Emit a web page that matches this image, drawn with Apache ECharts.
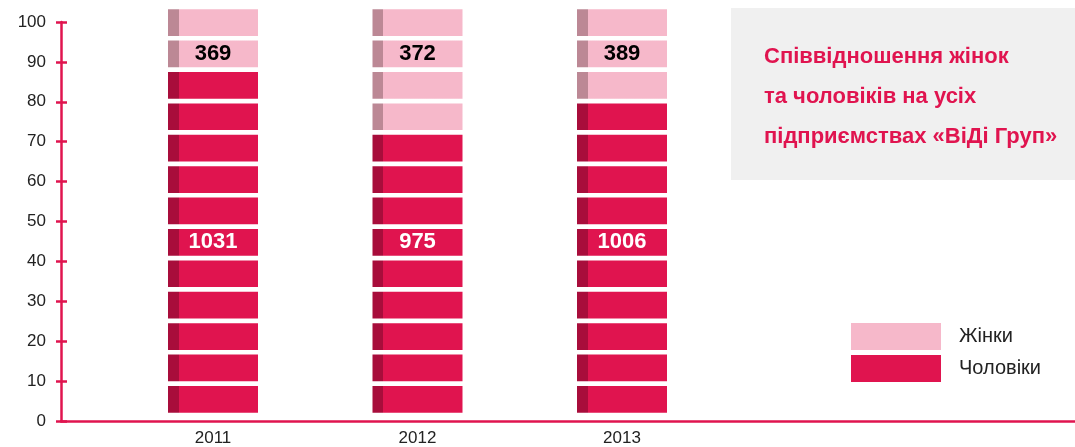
<!DOCTYPE html>
<html>
<head>
<meta charset="utf-8">
<script src="https://cdn.jsdelivr.net/npm/echarts@6/dist/echarts.min.js"></script>
<style>
  html, body { margin: 0; padding: 0; background: #fff; }
  #chart { width: 1075px; height: 447px; }
</style>
</head>
<body>
<div id="chart"></div>
<script>
// data
var years = ["2011", "2012", "2013"];
var menCount = [1031, 975, 1006];
var womenCount = [369, 372, 389];
var menBlocks = [11, 9, 10];   // red blocks per column
var womenBlocks = [2, 4, 3];   // pink blocks per column
var yTicks = [0, 10, 20, 30, 40, 50, 60, 70, 80, 90, 100];

var RED = "#e0144f", RED_DARK = "#a80d3b";
var PINK = "#f6b8ca", PINK_DARK = "#bc8895";
var FONT = "'Liberation Sans', Arial, sans-serif";

var chart = echarts.init(document.getElementById("chart"));

function stripColor(dark, main) {
  var s = 11 / 90;
  return new echarts.graphic.LinearGradient(0, 0, 1, 0, [
    { offset: 0, color: dark },
    { offset: s, color: dark },
    { offset: s, color: main },
    { offset: 1, color: main }
  ]);
}

var blockH = 6.69, gapH = 1.18, baseH = 2.08;
var total = menBlocks[0] + womenBlocks[0];
var MEN_LABEL_AT = 5, WOMEN_LABEL_AT = total - 2;

var series = [];
// empty space below the first block
series.push({
  type: "bar", stack: "s", xAxisIndex: 0, yAxisIndex: 0, barWidth: 90, clip: false,
  silent: true, itemStyle: { color: "transparent" },
  data: years.map(function () { return baseH; })
});
for (var k = 0; k < total; k++) {
  series.push({
    type: "bar", stack: "s", xAxisIndex: 0, yAxisIndex: 0, barWidth: 90, clip: false,
    data: years.map(function (y, i) {
      var isMen = k < menBlocks[i];
      var item = {
        value: blockH,
        itemStyle: { color: isMen ? stripColor(RED_DARK, RED) : stripColor(PINK_DARK, PINK) }
      };
      if (k === MEN_LABEL_AT) {
        item.label = { show: true, position: "inside", formatter: String(menCount[i]),
          color: "#fff", fontFamily: FONT, fontWeight: "bold", fontSize: 22 };
      }
      if (k === WOMEN_LABEL_AT) {
        item.label = { show: true, position: "inside", formatter: String(womenCount[i]),
          color: "#000", fontFamily: FONT, fontWeight: "bold", fontSize: 22 };
      }
      return item;
    })
  });
  if (k < total - 1) {
    series.push({
      type: "bar", stack: "s", xAxisIndex: 0, yAxisIndex: 0, barWidth: 90, clip: false,
      silent: true, itemStyle: { color: "transparent" },
      data: years.map(function () { return gapH; })
    });
  }
}
// legend entries (same stack so they take no extra bar slot)
series.push({ name: "Жінки", type: "bar", stack: "s", barWidth: 90, xAxisIndex: 0, yAxisIndex: 0, data: [], itemStyle: { color: PINK } });
series.push({ name: "Чоловіки", type: "bar", stack: "s", barWidth: 90, xAxisIndex: 0, yAxisIndex: 0, data: [], itemStyle: { color: RED } });

var option = {
  animation: false,
  grid: [
    { left: 110.75, width: 204.5 * 3, top: 22, bottom: 26 },
    { left: 61, right: 0, top: 22, bottom: 26 }
  ],
  legend: {
    data: ["Жінки", "Чоловіки"],
    orient: "vertical",
    left: 846, top: 318,
    icon: "rect",
    itemWidth: 90, itemHeight: 27, itemGap: 5,
    textStyle: { fontFamily: FONT, fontSize: 20, color: "#222", padding: [0, 0, 0, 13] }
  },
  xAxis: [
    {
      gridIndex: 0, type: "category", data: years,
      axisLine: { show: false }, axisTick: { show: false },
      axisLabel: { color: "#222", fontFamily: FONT, fontSize: 17, margin: 9 }
    },
    {
      gridIndex: 1, type: "category", data: [""],
      axisLine: { lineStyle: { color: RED, width: 2.5 } },
      axisTick: { show: false }, axisLabel: { show: false }
    }
  ],
  yAxis: [
    { gridIndex: 0, type: "value", min: 0, max: 100, show: false },
    {
      gridIndex: 1, type: "value", min: 0, max: 100, interval: 10,
      axisLine: { show: true, lineStyle: { color: RED, width: 2.5 } },
      axisTick: { show: true, length: 5, lineStyle: { color: RED, width: 2.5 } },
      splitLine: { show: false },
      axisLabel: {
        color: "#222", fontFamily: FONT, fontSize: 17, margin: 15,
        formatter: function (v) { return yTicks.indexOf(v) >= 0 ? String(v) : ""; }
      }
    },
    {
      gridIndex: 1, type: "value", min: 0, max: 100, interval: 10, position: "left",
      axisLine: { show: false },
      axisTick: { show: true, inside: true, length: 6, lineStyle: { color: RED, width: 2.5 } },
      splitLine: { show: false }, axisLabel: { show: false }
    }
  ],
  graphic: [
    {
      type: "rect", left: 731, top: 8, z: -1,
      shape: { width: 344, height: 172 },
      style: { fill: "#f0f0f0" }
    },
    {
      type: "text", left: 764, top: 37,
      style: {
        text: "Співвідношення жінок\nта чоловіків на усіх\nпідприємствах «ВіДі Груп»",
        fill: RED, font: "bold 22px " + FONT, lineHeight: 40
      }
    }
  ],
  series: series
};

chart.setOption(option);
</script>
</body>
</html>
